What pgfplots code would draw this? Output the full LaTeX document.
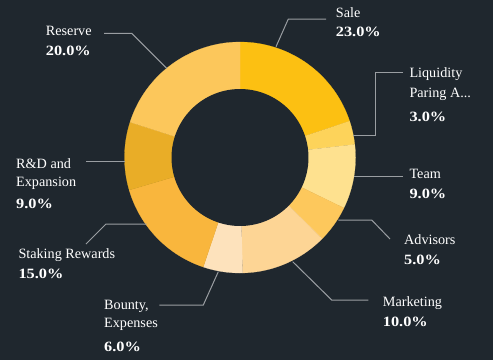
\documentclass[border=0pt]{standalone}
\usepackage{fontspec}
\setmainfont{Liberation Serif}
\newfontfamily\pcfont[BoldFeatures={FakeStretch=1.15}]{Liberation Serif}
\usepackage{pgfplots}
\pgfplotsset{compat=1.18}
\definecolor{bgc}{HTML}{1F272E}
\definecolor{linec}{HTML}{9A9EA2}
\definecolor{cSale}{HTML}{FCC012}
\definecolor{cLiq}{HTML}{FDD35A}
\definecolor{cTeam}{HTML}{FEE18F}
\definecolor{cAdv}{HTML}{FDC85C}
\definecolor{cMkt}{HTML}{FDD595}
\definecolor{cBounty}{HTML}{FDE2BC}
\definecolor{cStake}{HTML}{F9B63D}
\definecolor{cRD}{HTML}{E9AD27}
\definecolor{cRes}{HTML}{FCC75B}
% slice: start and end as cumulative share of the circle (percent)
\newcommand{\slice}[3]{\addplot[fill=#3, draw=#3, line width=0.2pt, domain=#1*3.6:#2*3.6, samples=60, variable=\t] ({240+115.5*sin(\t)},{157.5-115.5*cos(\t)}) -- (axis cs:240,157.5) -- cycle;}
\tikzset{nm/.style={anchor=base west, inner sep=0pt, text=white, font=\fontsize{14.2bp}{17bp}\selectfont},
 pc/.style={anchor=base west, inner sep=0pt, text=white, font=\pcfont\fontsize{14.2bp}{17bp}\selectfont\bfseries},
 ld/.style={draw=linec, line width=1bp}}
\begin{document}
\begin{tikzpicture}
\fill[bgc] (0,0) rectangle (493bp,360bp);
\begin{axis}[at={(0,0)}, anchor=south west, scale only axis, width=493bp, height=360bp,
  xmin=0, xmax=493, ymin=0, ymax=360, y dir=reverse, hide axis, clip=false]
% cumulative shares: Sale 19.9, Liquidity 3.3, Team 9.0, Advisors 5.2, Marketing 12.25,
% Bounty 5.5, Staking 15.3, R&D 9.5, Reserve 20.05
\slice{0}{19.9}{cSale}
\slice{19.9}{23.2}{cLiq}
\slice{23.2}{32.2}{cTeam}
\slice{32.2}{37.4}{cAdv}
\slice{37.4}{49.65}{cMkt}
\slice{49.65}{55.15}{cBounty}
\slice{55.15}{70.45}{cStake}
\slice{70.45}{79.95}{cRD}
\slice{79.95}{100}{cRes}
\addplot[fill=bgc, draw=none, domain=0:360, samples=120] ({240+68.5*sin(x)},{157.5-68.5*cos(x)}) -- cycle;
% leader lines
\draw[ld] (axis cs:276,46.7) -- (axis cs:288.3,19) -- (axis cs:326,19);
\draw[ld] (axis cs:353.3,135.7) -- (axis cs:375.7,135.7) -- (axis cs:375.7,72) -- (axis cs:403.3,72);
\draw[ld] (axis cs:354.3,176.7) -- (axis cs:403.3,176.7);
\draw[ld] (axis cs:338.3,220) -- (axis cs:371.7,220) -- (axis cs:390,239);
\draw[ld] (axis cs:292.7,261.7) -- (axis cs:331.7,300) -- (axis cs:368.3,300);
\draw[ld] (axis cs:218.3,271.7) -- (axis cs:203.3,305) -- (axis cs:159.3,305);
\draw[ld] (axis cs:146.7,224) -- (axis cs:106,224) -- (axis cs:86,244);
\draw[ld] (axis cs:125,161.7) -- (axis cs:86,161.7);
\draw[ld] (axis cs:166.7,68.3) -- (axis cs:131.7,33.3) -- (axis cs:104,33.3);
% labels
\node[nm] at (axis cs:335.7,17.7) {Sale};
\node[pc] at (axis cs:335.7,36.4) {23.0\%};
\node[nm] at (axis cs:409.3,77.4) {Liquidity};
\node[nm] at (axis cs:409.3,97.4) {Paring A...};
\node[pc] at (axis cs:409.3,121.4) {3.0\%};
\node[nm] at (axis cs:409.3,178.7) {Team};
\node[pc] at (axis cs:409.3,198) {9.0\%};
\node[nm] at (axis cs:404,244.7) {Advisors};
\node[pc] at (axis cs:404,264) {5.0\%};
\node[nm] at (axis cs:382.7,306.4) {Marketing};
\node[pc] at (axis cs:382.7,326.4) {10.0\%};
\node[nm] at (axis cs:104,309.7) {Bounty,};
\node[nm] at (axis cs:104,327.4) {Expenses};
\node[pc] at (axis cs:104,351.4) {6.0\%};
\node[nm] at (axis cs:18.3,258.7) {Staking Rewards};
\node[pc] at (axis cs:18.3,278) {15.0\%};
\node[nm] at (axis cs:16,168) {R\&D and};
\node[nm] at (axis cs:16,186.4) {Expansion};
\node[pc] at (axis cs:16,208.7) {9.0\%};
\node[nm] at (axis cs:45.7,35.7) {Reserve};
\node[pc] at (axis cs:45.7,55.4) {20.0\%};
\end{axis}
\end{tikzpicture}
\end{document}
